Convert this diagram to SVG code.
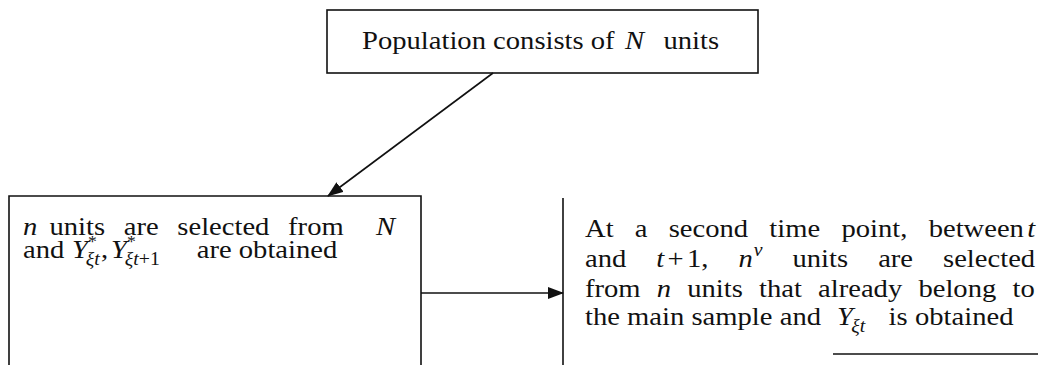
<svg xmlns="http://www.w3.org/2000/svg" width="1038" height="365" viewBox="0 0 1038 365">
<defs>
<style>
.box{fill:none;stroke:#111;stroke-width:1.6}
.edge{fill:none;stroke:#111;stroke-width:1.6}
.t{font-family:"Liberation Serif","Times New Roman",serif;font-size:26px;fill:#111}
.i{font-style:italic}
.s{font-size:18px}
.p{font-size:16px}
</style>
<marker id="arr" markerUnits="userSpaceOnUse" markerWidth="16" markerHeight="12" refX="15" refY="6" orient="auto">
<path d="M0,0 L16,6 L0,12 Z" fill="#111"/>
</marker>
</defs>
<rect width="1038" height="365" fill="#fff"/>
<g id="node-population">
<rect class="box" x="327" y="10" width="431" height="63"/>
<text class="t" transform="translate(362,49) scale(1.1,1)"><tspan x="0">Population</tspan><tspan x="119.2">consists</tspan><tspan x="208">of</tspan><tspan x="239" class="i">N</tspan><tspan x="274">units</tspan></text>
</g>
<g id="node-sample">
<path class="box" d="M9,370 V196 H421 V370"/>
<text class="t" transform="translate(23,235) scale(1.1,1)"><tspan x="0" class="i">n</tspan><tspan x="24">units</tspan><tspan x="91.6">are</tspan><tspan x="140.3">selected</tspan><tspan x="241">from</tspan><tspan x="320.9" class="i">N</tspan></text>
<text class="t" transform="translate(23,258) scale(1.1,1)"><tspan x="0">and</tspan><tspan x="44.5" class="i">Y</tspan><tspan x="59" y="-11" class="p">*</tspan><tspan x="57" y="7" class="s i">ξt</tspan><tspan x="71" y="0">,</tspan><tspan x="80" class="i">Y</tspan><tspan x="94.5" y="-11" class="p">*</tspan><tspan x="92.5" y="7" class="s"><tspan class="i">ξt</tspan>+1</tspan><tspan x="158" y="0">are</tspan><tspan x="196.2">obtained</tspan></text>
</g>
<g id="node-subsample">
<path class="box" d="M563,198 V365"/>
<path class="box" d="M833,354 H1038"/>
<text class="t" transform="translate(585,237) scale(1.1,1)"><tspan x="0">At</tspan><tspan x="45.3">a</tspan><tspan x="76.1">second</tspan><tspan x="167.6">time</tspan><tspan x="233.1">point,</tspan><tspan x="312.4">between</tspan><tspan x="402" class="i">t</tspan></text>
<text class="t" transform="translate(585,267) scale(1.1,1)"><tspan x="0">and</tspan><tspan x="64.8" class="i">t</tspan><tspan x="75">+</tspan><tspan x="92.7">1,</tspan><tspan x="139.5" class="i">n</tspan><tspan x="153.5" y="-11" class="s i">v</tspan><tspan x="188.6" y="0">units</tspan><tspan x="266.5">are</tspan><tspan x="325.5">selected</tspan></text>
<text class="t" transform="translate(585,297) scale(1.1,1)"><tspan x="0">from</tspan><tspan x="65.2" class="i">n</tspan><tspan x="92.9">units</tspan><tspan x="158.2">that</tspan><tspan x="211.9">already</tspan><tspan x="303.1">belong</tspan><tspan x="388.6">to</tspan></text>
<text class="t" transform="translate(585,325) scale(1.1,1)"><tspan x="0">the</tspan><tspan x="38.3">main</tspan><tspan x="96.8">sample</tspan><tspan x="177">and</tspan><tspan x="229" class="i">Y</tspan><tspan x="242" y="7" class="s i">ξt</tspan><tspan x="276" y="0">is</tspan><tspan x="300">obtained</tspan></text>
</g>
<g id="connectors">
<line class="edge" x1="493" y1="73" x2="328" y2="196" marker-end="url(#arr)"/>
<line class="edge" x1="421" y1="293" x2="563" y2="293" marker-end="url(#arr)"/>
</g>
</svg>
